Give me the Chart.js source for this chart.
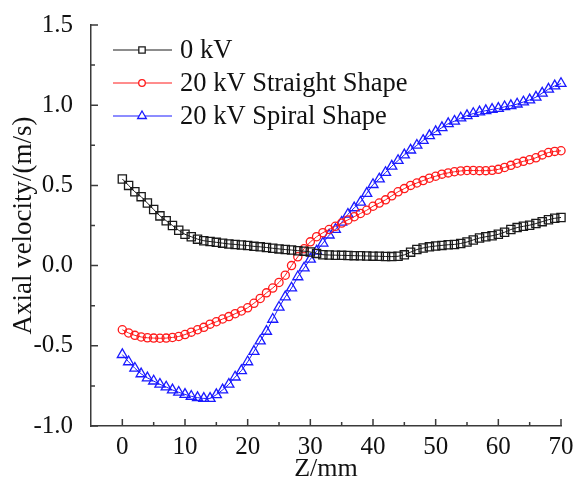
<!DOCTYPE html>
<html>
<head>
<meta charset="utf-8">
<script src="https://cdn.jsdelivr.net/npm/chart.js@4.4.0/dist/chart.umd.min.js"></script>
<style>
  html, body { margin: 0; padding: 0; background: #fff; }
  #wrap { width: 576px; height: 489px; }
</style>
</head>
<body>
<div id="wrap"><canvas id="c" width="576" height="489"></canvas></div>
<script>
// ---- data ----
const zValues = [0,1,2,3,4,5,6,7,8,9,10,11,12,13,14,15,16,17,18,19,20,21,22,23,24,25,26,27,28,29,30,31,32,33,34,35,36,37,38,39,40,41,42,43,44,45,46,47,48,49,50,51,52,53,54,55,56,57,58,59,60,61,62,63,64,65,66,67,68,69,70];

const v0kV = [0.54,0.50,0.46,0.43,0.39,0.35,0.31,0.28,0.25,0.22,0.195,0.18,0.165,0.155,0.15,0.145,0.14,0.135,0.132,0.128,0.125,0.12,0.117,0.113,0.108,0.104,0.10,0.097,0.093,0.09,0.085,0.076,0.068,0.066,0.065,0.064,0.063,0.062,0.061,0.06,0.059,0.058,0.057,0.056,0.058,0.067,0.084,0.10,0.11,0.117,0.122,0.126,0.13,0.132,0.138,0.147,0.16,0.172,0.18,0.186,0.195,0.208,0.225,0.237,0.245,0.252,0.262,0.274,0.286,0.295,0.30];

const vStraight = [-0.40,-0.42,-0.435,-0.445,-0.45,-0.452,-0.453,-0.452,-0.448,-0.442,-0.43,-0.415,-0.40,-0.385,-0.365,-0.35,-0.333,-0.318,-0.30,-0.283,-0.263,-0.235,-0.205,-0.17,-0.14,-0.105,-0.06,0.0,0.055,0.105,0.148,0.18,0.205,0.225,0.245,0.265,0.285,0.305,0.325,0.345,0.37,0.39,0.41,0.435,0.46,0.48,0.50,0.515,0.53,0.545,0.557,0.57,0.578,0.585,0.59,0.593,0.593,0.592,0.592,0.594,0.60,0.612,0.625,0.638,0.65,0.66,0.672,0.69,0.705,0.712,0.716];

const vSpiral = [-0.555,-0.60,-0.64,-0.675,-0.70,-0.72,-0.74,-0.757,-0.775,-0.79,-0.803,-0.815,-0.823,-0.828,-0.828,-0.805,-0.775,-0.74,-0.695,-0.655,-0.60,-0.535,-0.47,-0.41,-0.335,-0.26,-0.195,-0.14,-0.07,-0.015,0.04,0.09,0.14,0.19,0.225,0.27,0.32,0.36,0.395,0.45,0.505,0.54,0.58,0.62,0.655,0.69,0.72,0.75,0.78,0.81,0.835,0.86,0.885,0.90,0.92,0.935,0.948,0.958,0.966,0.974,0.98,0.99,0.997,1.007,1.02,1.033,1.05,1.075,1.10,1.12,1.135];

const seriesNames = ['0 kV', '20 kV Straight Shape', '20 kV Spiral Shape'];
const xTickValues = [0,10,20,30,40,50,60,70];
const xMinorTickValues = [5,15,25,35,45,55,65];
const yTickValues = [-1.0,-0.5,0.0,0.5,1.0,1.5];
const yMinorTickValues = [-0.75,-0.25,0.25,0.75,1.25];
const xTitle = 'Z/mm';
const yTitle = 'Axial velocity/(m/s)';

// ---- chart ----
const FONT = '"Liberation Serif", "Times New Roman", serif';
const AXIS_COLOR = '#3a3a3a';

function pts(ys) { return zValues.map((z, i) => ({ x: z, y: ys[i] })); }

const tickPlugin = {
  id: 'inwardTicks',
  afterDraw(chart) {
    const ctx = chart.ctx;
    const xs = chart.scales.x, ys = chart.scales.y;
    const a = chart.chartArea;
    ctx.save();
    ctx.strokeStyle = AXIS_COLOR;
    ctx.lineWidth = 1.5;
    ctx.beginPath();
    xTickValues.forEach(v => { const p = xs.getPixelForValue(v); ctx.moveTo(p, a.bottom); ctx.lineTo(p, a.bottom - 7); });
    xMinorTickValues.forEach(v => { const p = xs.getPixelForValue(v); ctx.moveTo(p, a.bottom); ctx.lineTo(p, a.bottom - 4); });
    yTickValues.forEach(v => { const p = ys.getPixelForValue(v); ctx.moveTo(a.left, p); ctx.lineTo(a.left + 7, p); });
    yMinorTickValues.forEach(v => { const p = ys.getPixelForValue(v); ctx.moveTo(a.left, p); ctx.lineTo(a.left + 4, p); });
    ctx.stroke();
    ctx.restore();
  }
};

const legendPlugin = {
  id: 'customLegend',
  afterDatasetsDraw(chart) {
    const ctx = chart.ctx;
    const rows = [50, 83, 116];
    ctx.save();
    chart.data.datasets.forEach((ds, i) => {
      const y = rows[i];
      ctx.strokeStyle = ds.borderColor;
      ctx.lineWidth = 1;
      ctx.beginPath();
      ctx.moveTo(113, y); ctx.lineTo(172, y);
      ctx.stroke();
      ctx.fillStyle = '#fff';
      ctx.strokeStyle = ds.pointBorderColor;
      ctx.lineWidth = ds.pointBorderWidth;
      Chart.helpers.drawPoint(ctx, { pointStyle: ds.pointStyle, rotation: 0, radius: ds.legendRadius, borderWidth: ds.pointBorderWidth }, 142, y);
      ctx.fillStyle = '#111';
      ctx.font = '26.5px ' + FONT;
      ctx.textAlign = 'left';
      ctx.textBaseline = 'middle';
      ctx.fillText(ds.label, 180, y + 1);
    });
    ctx.restore();
  }
};

function mkDataset(label, ys, color, style, radius, legendRadius) {
  return {
    label: label,
    data: pts(ys),
    borderColor: color,
    borderWidth: 1,
    pointStyle: style,
    pointRadius: radius,
    legendRadius: legendRadius,
    pointBorderColor: color,
    pointBackgroundColor: 'rgba(255,255,255,0)',
    pointBorderWidth: 1.3,
    showLine: true,
    tension: 0,
    fill: false,
    clip: false
  };
}

new Chart(document.getElementById('c'), {
  type: 'line',
  data: {
    datasets: [
      mkDataset(seriesNames[0], v0kV, '#1a1a1a', 'rect', 5.8, 4.5),
      mkDataset(seriesNames[1], vStraight, '#ff1a1a', 'circle', 4.1, 3.3),
      mkDataset(seriesNames[2], vSpiral, '#1a1aff', 'triangle', 5.8, 5)
    ]
  },
  options: {
    responsive: false,
    animation: false,
    layout: { padding: { top: 20, right: 15, left: 0, bottom: 0 } },
    plugins: { legend: { display: false }, tooltip: { enabled: false } },
    scales: {
      x: {
        type: 'linear',
        min: -5, max: 70,
        afterBuildTicks: s => { s.ticks = xTickValues.map(v => ({ value: v })); },
        afterFit: s => { s.height = 63; },
        grid: { display: false },
        border: { display: true, color: AXIS_COLOR, width: 1.5 },
        ticks: { color: '#111', font: { family: FONT, size: 25 }, padding: -2, maxRotation: 0, autoSkip: false,
                 callback: v => String(v) },
        title: { display: true, text: xTitle, color: '#111', font: { family: FONT, size: 26 }, padding: { top: 0, bottom: 4 } }
      },
      y: {
        type: 'linear',
        min: -1.0, max: 1.5,
        afterBuildTicks: s => { s.ticks = yTickValues.map(v => ({ value: v })); },
        afterFit: s => { s.width = 91; },
        grid: { display: false },
        border: { display: true, color: AXIS_COLOR, width: 1.5 },
        ticks: { color: '#111', font: { family: FONT, size: 25 }, padding: 10, autoSkip: false,
                 callback: v => Number(v).toFixed(1) },
        title: { display: true, text: yTitle, color: '#111', font: { family: FONT, size: 27 }, padding: { top: 8, bottom: 0 } }
      }
    }
  },
  plugins: [tickPlugin, legendPlugin]
});
</script>
</body>
</html>
